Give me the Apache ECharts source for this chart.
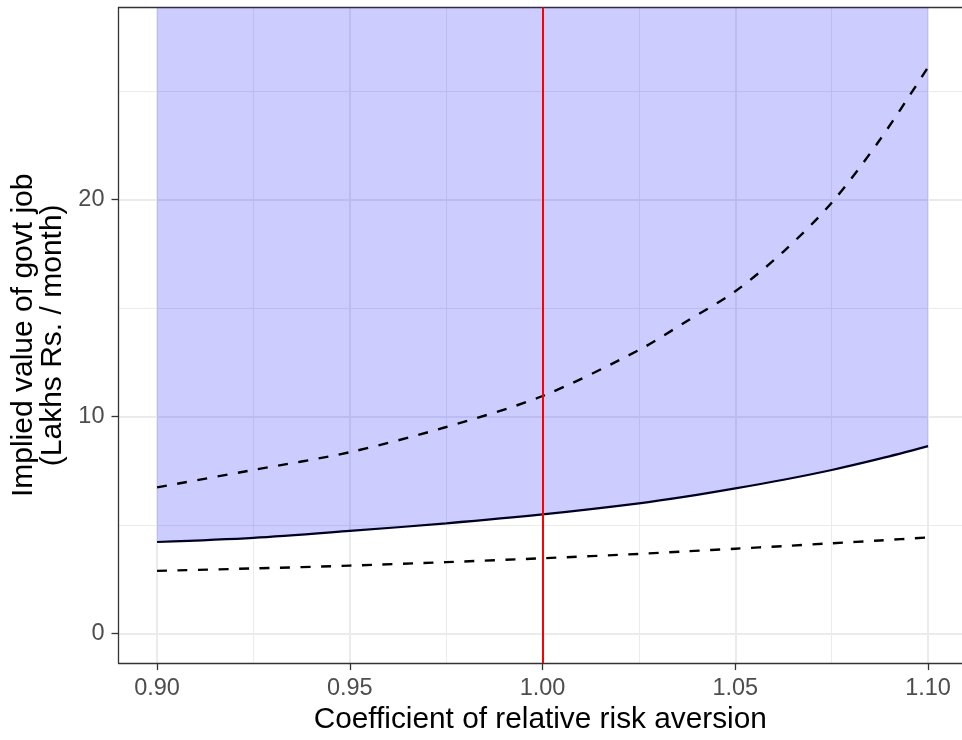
<!DOCTYPE html>
<html>
<head>
<meta charset="utf-8">
<script src="https://cdn.jsdelivr.net/npm/echarts@6/dist/echarts.min.js"></script>
<style>
  html, body { margin: 0; background: #fff; }
  #chart { width: 962px; height: 740px; }
</style>
</head>
<body>
<div id="chart"></div>
<script>
// coefficient of relative risk aversion
const crra = [0.900, 0.925, 0.950, 0.975, 1.000, 1.025, 1.0375, 1.050, 1.0625, 1.075, 1.0875, 1.100];
// implied value (lakhs Rs. / month)
const estimate   = [4.21, 4.40, 4.72, 5.07, 5.48, 5.99, 6.31, 6.68, 7.08, 7.53, 8.05, 8.63];
const upperBound = [6.73, 7.53, 8.35, 9.51, 10.94, 13.06, 14.40, 15.77, 17.60, 19.85, 22.75, 26.10];
const lowerBound = [2.88, 2.99, 3.12, 3.28, 3.46, 3.66, 3.78, 3.90, 4.02, 4.15, 4.28, 4.42];
const refCrra = 1.00;

const xMajor = [0.90, 0.95, 1.00, 1.05, 1.10];
const xMinor = [0.925, 0.975, 1.025, 1.075];
const yMajor = [0, 10, 20];
const yMinor = [5, 15, 25];

const FONT = '"Liberation Sans", Arial, sans-serif';
const pairs = ys => crra.map((x, i) => [x, ys[i]]);

const chart = echarts.init(document.getElementById('chart'));

// panel runs a little past the right edge of the picture, so no right border
const xBase = { type: 'value', min: 0.89, max: 1.1088, gridIndex: 0 };
const yBase = { type: 'value', min: -1.374, max: 28.85, gridIndex: 0 };
const border = { show: true, onZero: false, lineStyle: { color: '#333333', width: 1.3 } };
const dashed = { color: '#000', width: 2.4, type: [10, 10.5] };

chart.setOption({
  animation: false,
  grid: { left: 118.5, right: 0, top: 7.5, bottom: 76.7, show: false },
  xAxis: [
    {
      ...xBase, position: 'bottom',
      axisLine: border,
      axisTick: { show: true, length: 7, customValues: xMajor, lineStyle: { color: '#333333', width: 1.3 } },
      axisLabel: {
        customValues: xMajor, margin: 13, color: '#4D4D4D', fontSize: 23.5, fontFamily: FONT,
        formatter: v => v.toFixed(2)
      },
      splitLine: { show: true, lineStyle: { color: '#EBEBEB', width: 2 } },
      name: 'Coefficient of relative risk aversion', nameLocation: 'middle', nameGap: 38,
      nameTextStyle: { color: '#000', fontSize: 29.8, fontFamily: FONT }
    },
    {
      ...xBase, position: 'top',
      axisLine: border,
      axisTick: { show: false, customValues: xMinor },
      axisLabel: { show: false, customValues: xMinor },
      splitLine: { show: true, lineStyle: { color: '#EBEBEB', width: 1 } }
    }
  ],
  yAxis: [
    {
      ...yBase, position: 'left',
      axisLine: border,
      axisTick: { show: true, length: 7, customValues: yMajor, lineStyle: { color: '#333333', width: 1.3 } },
      axisLabel: { customValues: yMajor, margin: 14, color: '#4D4D4D', fontSize: 23.5, fontFamily: FONT },
      splitLine: { show: true, lineStyle: { color: '#EBEBEB', width: 2 } },
      name: 'Implied value of govt job\n(Lakhs Rs. / month)', nameLocation: 'middle', nameGap: 45,
      nameTextStyle: { color: '#000', fontSize: 30, lineHeight: 29, fontFamily: FONT }
    },
    {
      ...yBase, position: 'left',
      axisLine: { show: false },
      axisTick: { show: false, customValues: yMinor },
      axisLabel: { show: false, customValues: yMinor },
      splitLine: { show: true, lineStyle: { color: '#EBEBEB', width: 1 } }
    }
  ],
  series: [
    {
      name: 'estimate', type: 'line', data: pairs(estimate), smooth: 0.3,
      showSymbol: false, z: 3,
      lineStyle: { color: '#000022', width: 2.2 },
      areaStyle: { origin: 'end', color: 'rgba(0,0,255,0.2)', opacity: 1 },
      markLine: {
        silent: true, symbol: ['none', 'none'], label: { show: false },
        lineStyle: { color: '#FF0000', width: 2, type: 'solid' },
        data: [{ xAxis: refCrra }]
      }
    },
    {
      name: 'upper', type: 'line', data: pairs(upperBound), smooth: 0.3,
      showSymbol: false, z: 4, lineStyle: dashed
    },
    {
      name: 'lower', type: 'line', data: pairs(lowerBound), smooth: 0.3,
      showSymbol: false, z: 4, lineStyle: dashed
    }
  ]
});
</script>
</body>
</html>
